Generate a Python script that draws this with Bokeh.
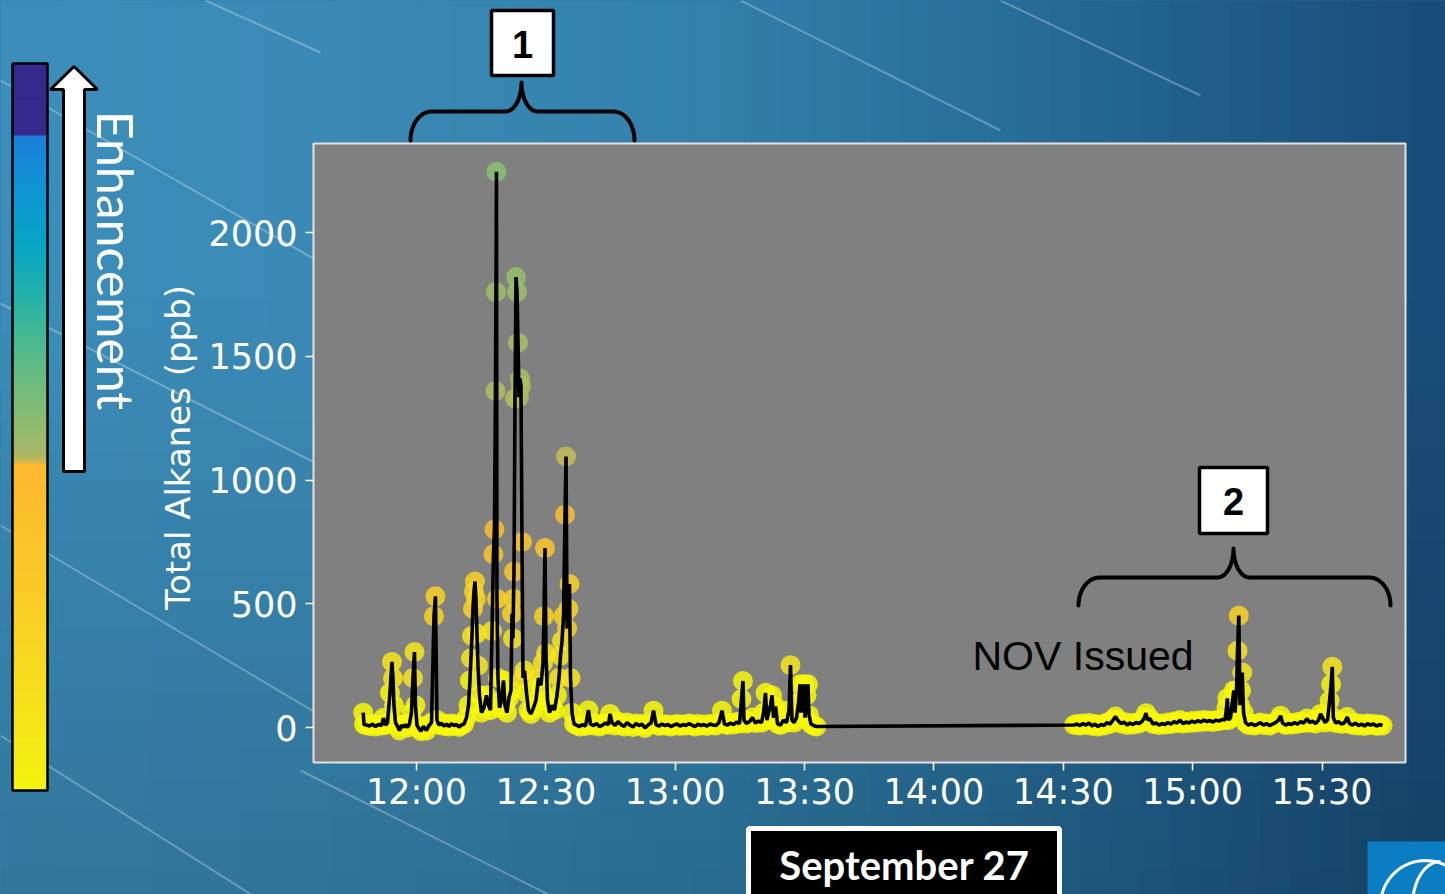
import numpy as np
import pandas as pd
from bokeh.plotting import figure
from bokeh.models import (ColumnDataSource, Range1d, FixedTicker, DatetimeTickFormatter,
                          BoxAnnotation, PolyAnnotation, Label, GlobalInlineStyleSheet)
from bokeh.transform import linear_cmap
from bokeh.embed import file_html
from bokeh.resources import INLINE

# ---------------- data ----------------
DAY = "2023-09-27"

seg1_times = [
    "11:47:39", "11:47:50", "11:48:24", "11:49:06", "11:49:48", "11:50:29", "11:51:11", "11:51:53", "11:52:21", "11:52:49",
    "11:53:16", "11:53:51", "11:54:19", "11:54:33", "11:54:47", "11:55:08", "11:55:36", "11:56:03", "11:56:31", "11:56:59",
    "11:57:27", "11:57:55", "11:58:23", "11:58:50", "11:59:11", "11:59:32", "11:59:46", "12:00:07", "12:00:35", "12:01:03",
    "12:01:37", "12:02:19", "12:02:54", "12:03:29", "12:04:04", "12:04:24", "12:04:45", "12:05:13", "12:05:48", "12:06:23",
    "12:06:57", "12:07:32", "12:08:07", "12:08:42", "12:09:17", "12:09:51", "12:10:26", "12:11:01", "12:11:36", "12:12:04",
    "12:12:24", "12:12:38", "12:12:52", "12:13:06", "12:13:20", "12:13:34", "12:13:48", "12:14:02", "12:14:16", "12:14:37",
    "12:15:04", "12:15:39", "12:16:14", "12:16:42", "12:17:10", "12:17:31", "12:17:51", "12:18:05", "12:18:19", "12:18:26",
    "12:18:33", "12:18:40", "12:18:54", "12:19:15", "12:19:43", "12:20:11", "12:20:31", "12:20:59", "12:21:27", "12:21:55",
    "12:22:09", "12:22:23", "12:22:30", "12:22:37", "12:22:51", "12:23:05", "12:23:19", "12:23:33", "12:23:46", "12:24:00",
    "12:24:14", "12:24:28", "12:24:42", "12:25:03", "12:25:31", "12:25:59", "12:26:33", "12:27:08", "12:27:43", "12:28:18",
    "12:28:52", "12:29:20", "12:29:34", "12:29:48", "12:30:02", "12:30:23", "12:30:51", "12:31:25", "12:32:00", "12:32:35",
    "12:33:03", "12:33:24", "12:33:45", "12:34:06", "12:34:27", "12:34:41", "12:34:55", "12:35:15", "12:35:29", "12:35:43",
    "12:36:04", "12:36:32", "12:37:06", "12:37:48", "12:38:30", "12:39:12", "12:39:53", "12:40:21", "12:41:03", "12:41:45",
    "12:42:26", "12:43:08", "12:43:50", "12:44:32", "12:44:53", "12:45:21", "12:46:03", "12:46:44", "12:47:26", "12:48:08",
    "12:48:50", "12:49:31", "12:50:13", "12:50:55", "12:51:36", "12:52:18", "12:53:00", "12:53:42", "12:54:23", "12:54:58",
    "12:55:33", "12:56:15", "12:56:56", "12:57:38", "12:58:20", "12:59:01", "12:59:43", "13:00:25", "13:01:07", "13:01:48",
    "13:02:30", "13:03:12", "13:03:54", "13:04:35", "13:05:17", "13:05:59", "13:06:41", "13:07:22", "13:08:04", "13:08:46",
    "13:09:28", "13:10:09", "13:10:51", "13:11:26", "13:12:08", "13:12:49", "13:13:31", "13:14:13", "13:14:55", "13:15:22",
    "13:15:43", "13:15:57", "13:16:32", "13:17:14", "13:17:55", "13:18:37", "13:19:19", "13:20:01", "13:20:29", "13:20:56",
    "13:21:17", "13:21:38", "13:22:06", "13:22:27", "13:22:48", "13:23:16", "13:23:44", "13:24:25", "13:25:07", "13:25:49",
    "13:26:24", "13:26:44", "13:27:05", "13:27:33", "13:28:08", "13:28:36", "13:28:57", "13:29:11", "13:29:31", "13:29:52",
    "13:30:06", "13:30:27", "13:30:48", "13:31:02", "13:31:29", "13:32:04", "13:32:46",
]
seg1_values = [
    60, 12, 10, 6, 14, 4, 12, 8, 38, 10,
    18, 140, 265, 200, 90, 20, 5, -12, 8, 2,
    12, 0, 15, 60, 200, 305, 90, 10, -5, -15,
    5, -12, 8, 20, 450, 530, 30, 10, 18, 6,
    14, 4, 16, 8, 12, 2, 10, 14, 40, 90,
    190, 280, 370, 480, 550, 590, 520, 380, 250, 130,
    60, 80, 130, 90, 70, 390, 700, 800, 1360, 1760,
    2245, 520, 200, 80, 110, 190, 90, 60, 120, 150,
    460, 360, 520, 630, 1330, 1820, 1760, 1555, 1335, 1410,
    1380, 750, 200, 230, 140, 70, 55, 80, 110, 200,
    170, 260, 450, 725, 300, 110, 60, 90, 70, 130,
    200, 290, 350, 450, 860, 1095, 400, 480, 580, 200,
    60, 15, 10, 4, 12, 6, 70, 14, 8, 16,
    4, 10, 18, 12, 55, 20, 8, 24, 12, 4,
    20, 10, 2, 16, 8, 14, -2, 10, 18, 68,
    12, 6, 14, 8, 12, 4, 10, 14, 6, 12,
    8, 16, 10, 4, 14, 8, 12, 6, 14, 10,
    8, 20, 68, 14, 10, 18, 12, 22, 16, 115,
    188, 30, 16, 24, 40, 18, 26, 20, 60, 140,
    30, 60, 90, 130, 40, 85, 15, 10, 30, 20,
    70, 252, 30, 20, 40, 100, 175, 60, 120, 175,
    40, 130, 175, 50, 14, 8, 4,
]

seg2_times = [
    "14:32:29", "14:33:11", "14:33:53", "14:34:34", "14:35:16", "14:35:58", "14:36:40", "14:37:21", "14:38:03", "14:38:45",
    "14:39:27", "14:40:08", "14:40:50", "14:41:32", "14:42:07", "14:42:41", "14:43:23", "14:44:05", "14:44:47", "14:45:28",
    "14:46:10", "14:46:52", "14:47:33", "14:48:15", "14:48:50", "14:49:11", "14:49:32", "14:50:06", "14:50:48", "14:51:30",
    "14:52:12", "14:52:53", "14:53:35", "14:54:17", "14:54:59", "14:55:40", "14:56:22", "14:57:04", "14:57:46", "14:58:27",
    "14:59:09", "14:59:51", "15:00:33", "15:01:14", "15:01:56", "15:02:38", "15:03:20", "15:04:01", "15:04:43", "15:05:25",
    "15:06:07", "15:06:48", "15:07:30", "15:07:51", "15:08:02", "15:08:19", "15:08:47", "15:09:15", "15:09:33", "15:09:50",
    "15:10:10", "15:10:24", "15:10:42", "15:10:59", "15:11:13", "15:11:30", "15:11:48", "15:12:16", "15:12:57", "15:13:39",
    "15:14:21", "15:15:03", "15:15:44", "15:16:26", "15:17:08", "15:17:50", "15:18:31", "15:19:13", "15:19:55", "15:20:23",
    "15:20:51", "15:21:32", "15:22:14", "15:22:56", "15:23:37", "15:24:19", "15:25:01", "15:25:43", "15:26:32", "15:27:06",
    "15:27:48", "15:28:30", "15:29:12", "15:29:40", "15:30:07", "15:30:42", "15:31:17", "15:31:45", "15:32:06", "15:32:23",
    "15:32:37", "15:33:09", "15:33:50", "15:34:32", "15:35:14", "15:35:51", "15:36:23", "15:37:05", "15:37:46", "15:38:28",
    "15:39:10", "15:39:52", "15:40:33", "15:41:15", "15:41:57", "15:42:39", "15:43:20", "15:44:02",
]
seg2_values = [
    10, 14, 8, 16, 10, 18, 6, 14, 4, 12,
    8, 20, 14, 30, 44, 28, 16, 22, 10, 18,
    12, 20, 16, 24, 40, 58, 30, 36, 14, 18,
    10, 16, 12, 20, 14, 24, 18, 30, 16, 22,
    18, 26, 20, 28, 22, 30, 24, 28, 22, 30,
    26, 32, 30, 80, 118, 30, 40, 110, 150, 60,
    150, 310, 452, 90, 150, 222, 60, 20, 10, 16,
    8, 14, 20, 10, 16, 8, 14, 20, 30, 48,
    18, 10, 16, 12, 20, 14, 24, 18, 36, 20,
    26, 16, 30, 55, 40, 20, 30, 108, 175, 245,
    40, 18, 24, 14, 20, 42, 16, 10, 18, 8,
    14, 6, 16, 10, 14, 6, 12, 8,
]

x_tick_labels = ["12:00", "12:30", "13:00", "13:30", "14:00", "14:30", "15:00", "15:30"]
y_ticks = [0, 500, 1000, 1500, 2000]
# visible plot box limits
plot_x_start, plot_y_start = "11:36:07", -141
# whole-canvas limits (the plot box sits inside the slide)
x_start, x_end = "10:23:32", "15:58:38"
y_start, y_end = -674.7, 2937.4

# colours used for the enhancement scale of the markers (low -> high)
marker_palette = ["#f7f70a", "#f7e51c", "#f8d424", "#fac62c", "#fbbd2f", "#c7bc58",
                  "#b0be60", "#a5c064", "#9cc168", "#94c16c", "#8ec170", "#88c174"]

# ---------------- helpers ----------------
n1 = min(len(seg1_times), len(seg1_values))
n2 = min(len(seg2_times), len(seg2_values))
times = list(seg1_times[:n1]) + list(seg2_times[:n2])
values = list(seg1_values[:n1]) + list(seg2_values[:n2])
t = pd.to_datetime([f"{DAY} {s}" for s in times])
src = ColumnDataSource(data=dict(t=t, v=values))

def ts(s):
    return pd.Timestamp(f"{DAY} {s}")

W, H = 1445, 894
# plot box in page pixels
FL, FT, FR, FB = 313, 143, 1405, 762
def sx(px):
    return px
def sy(py):
    return H - py

p = figure(width=W, height=H, x_axis_type="datetime",
           x_range=Range1d(ts(x_start), ts(x_end)), y_range=Range1d(y_start, y_end),
           toolbar_location=None, output_backend="svg",
           min_border_left=0, min_border_right=0, min_border_top=0, min_border_bottom=0)
p.title = None
p.background_fill_color = "#2f7aa5"
p.border_fill_color = "#2f7aa5"
p.outline_line_color = None
p.grid.visible = False
p.stylesheets = [GlobalInlineStyleSheet(css="body { background: linear-gradient(90deg, #3c8dba 0%, #3280ab 48%, #205e8a 83%, #184c77 100%); }")]

def box(l, r, tp, bt, **kw):
    return BoxAnnotation(left=sx(l), right=sx(r), top=sy(tp), bottom=sy(bt),
                         left_units="screen", right_units="screen", top_units="screen",
                         bottom_units="screen", **kw)

# ---------------- background ----------------
def hex2rgb(h):
    h = h.lstrip('#')
    return np.array([int(h[i:i + 2], 16) for i in (0, 2, 4)], float)

def interp_color(stops, pos):
    ps = [s[0] for s in stops]
    cs = np.array([hex2rgb(s[1]) for s in stops])
    c = [np.interp(pos, ps, cs[:, k]) for k in range(3)]
    return "#%02x%02x%02x" % tuple(int(round(v)) for v in c)

bg_stops = [(0, "#3c8dba"), (300, "#3b8ab6"), (700, "#3280ab"), (1000, "#286e9a"),
            (1200, "#205e8a"), (1445, "#184c77")]
for x0 in range(0, 1445, 30):
    p.add_layout(box(x0, x0 + 31, -10, 900, fill_color=interp_color(bg_stops, x0 + 15),
                     fill_alpha=1.0, line_color=None, level="underlay"))
for y0 in range(300, 900, 30):
    a = 0.16 * (y0 + 15 - 300) / 594.0
    p.add_layout(box(-10, 1460, y0, y0 + 30, fill_color="black", fill_alpha=a,
                     line_color=None, level="underlay"))

def open_path(xs, ys, **kw):
    xs = list(xs) + list(xs)[::-1]
    ys = list(ys) + list(ys)[::-1]
    return PolyAnnotation(xs=[sx(x) for x in xs], ys=[sy(y) for y in ys],
                          xs_units="screen", ys_units="screen", fill_alpha=0, **kw)

streaks = [((0, 80), (320, 262)), ((0, 303), (320, 465)), ((0, 525), (320, 715)),
           ((0, 735), (260, 900)), ((205, 0), (320, 52)), ((740, 0), (1000, 130)),
           ((300, 770), (560, 900)), ((1000, 0), (1200, 95))]
for (a0, a1) in streaks:
    p.add_layout(open_path([a0[0], a1[0]], [a0[1], a1[1]], line_color="white",
                           line_alpha=0.28, line_width=2, level="underlay"))

# plot area (drawn over the background)
p.add_layout(box(FL, FR, FT, FB, fill_color="#808080", fill_alpha=1.0,
                 line_color="#e2e2e2", line_alpha=1.0, line_width=2, level="underlay"))

# ---------------- data glyphs ----------------
p.scatter(x="t", y="v", source=src, size=20, marker="circle",
          fill_color=linear_cmap("v", marker_palette, 0, 2400, low_color=marker_palette[0],
                                 high_color=marker_palette[-1]),
          fill_alpha=0.85, line_color=None)
p.line(x="t", y="v", source=src, line_color="black", line_width=3.6)

# ---------------- axes ----------------
p.xaxis.ticker = FixedTicker(ticks=[ts(s + ":00").value / 1e6 for s in x_tick_labels])
p.xaxis.formatter = DatetimeTickFormatter(minutes="%H:%M", hourmin="%H:%M", hours="%H:%M",
                                          minsec="%H:%M", seconds="%H:%M", days="%H:%M")
p.xaxis.fixed_location = plot_y_start
p.yaxis.ticker = FixedTicker(ticks=y_ticks)
p.yaxis.fixed_location = ts(plot_x_start).value / 1e6
p.yaxis.axis_label = "Total Alkanes (ppb)"
for ax in (p.xaxis, p.yaxis):
    ax.axis_line_color = None
    ax.major_tick_line_color = "white"
    ax.major_tick_line_width = 1.5
    ax.major_tick_out = 8
    ax.major_tick_in = 0
    ax.minor_tick_line_color = None
    ax.major_label_text_color = "white"
    ax.major_label_text_font = "DejaVu Sans"
    ax.major_label_text_font_size = "35px"
p.xaxis.major_label_standoff = 2
p.yaxis.major_label_standoff = 8
p.yaxis.axis_label_text_color = "white"
p.yaxis.axis_label_text_font = "DejaVu Sans"
p.yaxis.axis_label_text_font_size = "34px"
p.yaxis.axis_label_text_font_style = "normal"
p.yaxis.axis_label_standoff = 7

# ---------------- decorations ----------------
cb_stops = [(63, "#35288a"), (135, "#35298b"), (136.5, "#1b7fd9"), (160, "#1689d8"),
            (200, "#0c98d1"), (250, "#08a6c3"), (290, "#1fb0ab"), (330, "#40b895"),
            (380, "#6cbc7f"), (420, "#8bbb72"), (445, "#a0b868"), (460, "#b8b65c"),
            (463, "#fdb930"), (500, "#fcbd2d"), (600, "#f9cc26"), (700, "#f6e01c"),
            (790, "#f3f30f")]
for y0 in range(63, 790, 4):
    y1 = min(y0 + 4.6, 790)
    p.add_layout(box(12, 47, y0, y1, fill_color=interp_color(cb_stops, y0 + 2),
                     fill_alpha=1.0, line_color=None))
p.add_layout(box(12, 47, 63, 790, fill_alpha=0, line_color="black", line_alpha=1.0,
                 line_width=2.5))

arrow_x = [63, 84, 84, 97, 73.5, 50, 63]
arrow_y = [471, 471, 89, 89, 66, 89, 89]
p.add_layout(PolyAnnotation(xs=[sx(x) for x in arrow_x], ys=[sy(y) for y in arrow_y],
                            xs_units="screen", ys_units="screen", fill_color="white",
                            fill_alpha=1.0, line_color="black", line_alpha=1.0, line_width=3))
p.add_layout(Label(x=sx(115), y=sy(260), x_units="screen", y_units="screen", text="Enhancement",
                   angle=-np.pi / 2, text_align="center", text_baseline="middle",
                   text_font="Lato", text_font_size="50px", text_color="white"))

def brace_path(xl, xr, xc, ye, yb, yt, r, r2, n=14):
    tt = np.linspace(0, np.pi / 2, n)
    lx1 = xl + r * (1 - np.cos(tt)); ly1 = ye - (ye - yb) * np.sin(tt)
    lx2 = xc - r2 + r2 * np.sin(tt); ly2 = yt + (yb - yt) * np.cos(tt)
    rx2 = xc + r2 - r2 * np.sin(tt); ry2 = ly2
    rx1 = xr - r * (1 - np.cos(tt)); ry1 = ly1
    xs = np.concatenate([lx1, lx2, rx2[::-1], rx1[::-1]])
    ys = np.concatenate([ly1, ly2, ry2[::-1], ry1[::-1]])
    return xs, ys

for (xl, xr, xc, ye, yb, yt) in [(410, 634, 521, 140, 111, 82), (1078, 1390, 1233, 605, 577, 548)]:
    bx, by = brace_path(xl, xr, xc, ye, yb, yt, 21, 16)
    p.add_layout(open_path(bx, by, line_color="black", line_alpha=1.0, line_width=4,
                           line_join="round", line_cap="round"))

for (l, r, tp, bt, txt) in [(491, 553, 10, 75, "1"), (1199, 1267, 467, 533, "2")]:
    p.add_layout(box(l, r, tp, bt, fill_color="white", fill_alpha=1.0,
                     line_color="black", line_alpha=1.0, line_width=3.5))
    p.add_layout(Label(x=sx((l + r) / 2), y=sy((tp + bt) / 2 + 1), x_units="screen", y_units="screen",
                       text=txt, text_align="center", text_baseline="middle",
                       text_font="Liberation Sans", text_font_style="bold",
                       text_font_size="38px", text_color="black"))

p.add_layout(Label(x=sx(972), y=sy(655), x_units="screen", y_units="screen", text="NOV Issued",
                   text_align="left", text_baseline="middle", text_font="Liberation Sans",
                   text_font_size="41px", text_color="black"))

p.add_layout(box(748, 1059, 828, 905, fill_color="black", fill_alpha=1.0,
                 line_color="white", line_alpha=1.0, line_width=5))
p.add_layout(Label(x=sx(904), y=sy(864), x_units="screen", y_units="screen", text="September 27",
                   text_align="center", text_baseline="middle", text_font="Lato",
                   text_font_style="bold", text_font_size="40px", text_color="white"))

# logo corner
p.add_layout(box(1367, 1460, 841, 905, fill_color="#0b7dc3", fill_alpha=1.0, line_color=None))
th = np.linspace(0, 2 * np.pi, 60)
p.add_layout(PolyAnnotation(xs=[sx(1425 + 45 * np.cos(a)) for a in th],
                            ys=[sy(905 + 45 * np.sin(a)) for a in th],
                            xs_units="screen", ys_units="screen", fill_alpha=0,
                            line_color="white", line_alpha=1.0, line_width=3))
th2 = np.linspace(np.pi, 1.5 * np.pi, 20)
p.add_layout(open_path([1440 + 28 * np.cos(a) for a in th2], [905 + 44 * np.sin(a) for a in th2],
                       line_color="white", line_alpha=1.0, line_width=3))

open("out.html", "w").write(file_html(p, INLINE))
